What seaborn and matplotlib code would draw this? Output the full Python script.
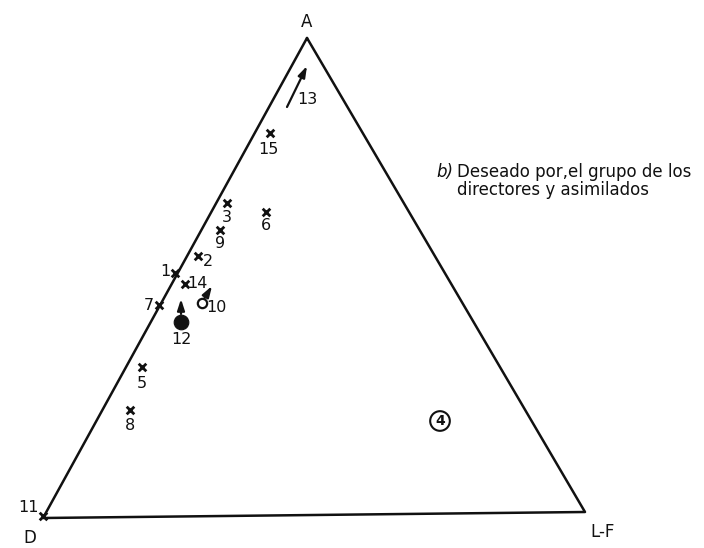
#!/usr/bin/env python3
# -*- coding: utf-8 -*-

import pandas as pd
import matplotlib
matplotlib.use("Agg")
import matplotlib.pyplot as plt
import seaborn as sns

# ================= 0. 数据 (坐标按图片像素读取) =================
VERTEX_NAMES = ["A", "D", "L-F"]
VERTEX_X = [307, 43, 585]
VERTEX_Y = [38, 518, 512]

# 叉号标记的点
CROSS_LABELS = ["1", "2", "3", "5", "6", "7", "8", "9", "11", "14", "15"]
CROSS_X = [175, 198, 227, 142, 266, 159, 130, 220, 43, 185, 270]
CROSS_Y = [273, 256, 203, 367, 212, 305, 410, 230, 516, 284, 133]

# 圆点 (空心 / 实心)
OPEN_LABELS = ["10"]
OPEN_X = [202]
OPEN_Y = [303]
FILLED_LABELS = ["12"]
FILLED_X = [181]
FILLED_Y = [322]
RING_LABELS = ["4"]
RING_X = [440]
RING_Y = [421]

# 箭头 (起点 -> 终点)
ARROW_LABELS = ["13", "10", "12"]
ARROW_X0 = [287, 204, 181]
ARROW_Y0 = [107, 299, 314]
ARROW_X1 = [307, 212, 181]
ARROW_Y1 = [66, 286, 299]

TITLE_B = "b)"
TITLE_TEXT = "Deseado por,el grupo de los\ndirectores y asimilados"

# ================= 1. 样式 =================
sns.set_theme(style="white")
plt.rcParams["font.family"] = ["DejaVu Sans"]
NUM_FONT = ["DejaVu Sans"]
INK = "#111111"

# 标签相对偏移 (像素, y 向上为正)
LABEL_OFFSETS = {
    "1": (-10, 1), "2": (10, -5), "3": (0, -14), "5": (0, -16),
    "6": (0, -14), "7": (-10, 0), "8": (0, -16), "9": (0, -13),
    "11": (-15, 9), "14": (12, 0), "15": (-2, -16),
    "10": (14, -4), "12": (0, -17), "13": (0, -34),
}

fig = plt.figure(figsize=(7.04, 5.48), dpi=100)
ax = fig.add_axes([0, 0, 1, 1])

# 三角形 (estimator=None 以免重复 x 被平均)
tri = pd.DataFrame({"x": VERTEX_X + VERTEX_X[:1], "y": VERTEX_Y + VERTEX_Y[:1]})
sns.lineplot(data=tri, x="x", y="y", sort=False, estimator=None,
             color=INK, linewidth=1.8, ax=ax)

vert_off = {"A": (0, 16), "D": (-13, -20), "L-F": (18, -20)}
for name, x, y in zip(VERTEX_NAMES, VERTEX_X, VERTEX_Y):
    ax.annotate(name, (x, y), xytext=vert_off[name], textcoords="offset pixels",
                ha="center", va="center", fontsize=12, color=INK)

# 叉号点
cross = pd.DataFrame({"x": CROSS_X, "y": CROSS_Y, "label": CROSS_LABELS})
sns.scatterplot(data=cross, x="x", y="y", marker="x", s=30, color=INK,
                linewidth=2.0, ax=ax, zorder=3)

# 空心圆 / 实心圆 / 圈号
opn = pd.DataFrame({"x": OPEN_X, "y": OPEN_Y})
sns.scatterplot(data=opn, x="x", y="y", marker="o", s=45, facecolor="white",
                edgecolor=INK, linewidth=1.6, ax=ax, zorder=3)
fil = pd.DataFrame({"x": FILLED_X, "y": FILLED_Y})
sns.scatterplot(data=fil, x="x", y="y", marker="o", s=110, color=INK,
                edgecolor=INK, ax=ax, zorder=3)
ring = pd.DataFrame({"x": RING_X, "y": RING_Y})
sns.scatterplot(data=ring, x="x", y="y", marker="o", s=200, facecolor="none",
                edgecolor=INK, linewidth=1.5, ax=ax, zorder=3)
for lab, x, y in zip(RING_LABELS, RING_X, RING_Y):
    ax.text(x, y, lab, ha="center", va="center", fontsize=10,
            family=NUM_FONT, color=INK, fontweight="bold")

# 箭头
for lab, x0, y0, x1, y1 in zip(ARROW_LABELS, ARROW_X0, ARROW_Y0, ARROW_X1, ARROW_Y1):
    ax.annotate("", xy=(x1, y1), xytext=(x0, y0),
                arrowprops=dict(arrowstyle="-|>,head_length=0.55,head_width=0.18",
                                color=INK, lw=1.6, shrinkA=0, shrinkB=0))

# 数字标签
label_pos = {}
for lab, x, y in zip(CROSS_LABELS, CROSS_X, CROSS_Y):
    label_pos[lab] = (x, y)
for lab, x, y in zip(OPEN_LABELS, OPEN_X, OPEN_Y):
    label_pos[lab] = (x, y)
for lab, x, y in zip(FILLED_LABELS, FILLED_X, FILLED_Y):
    label_pos[lab] = (x, y)
label_pos["13"] = (ARROW_X1[0], ARROW_Y1[0])

for lab, (x, y) in label_pos.items():
    dx, dy = LABEL_OFFSETS[lab]
    ax.annotate(lab, (x, y), xytext=(dx, dy), textcoords="offset pixels",
                ha="center", va="center", fontsize=11.5, family=NUM_FONT,
                color=INK)

# 说明文字
ax.text(436, 172, TITLE_B, ha="left", va="center", fontsize=12,
        style="italic", color=INK)
ax.text(457, 181, TITLE_TEXT, ha="left", va="center", fontsize=12,
        color=INK, linespacing=1.05)

ax.set_xlim(0, 704)
ax.set_ylim(548, 0)
ax.set_axis_off()

plt.savefig("out.png", dpi=100)
plt.close()
